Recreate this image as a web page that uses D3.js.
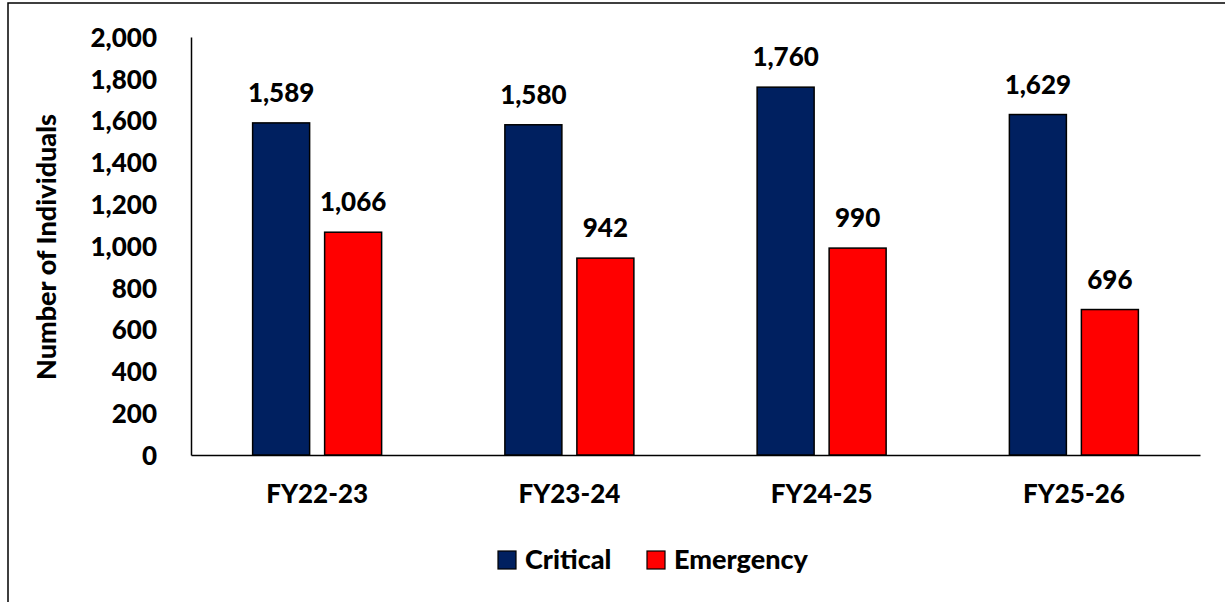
<!DOCTYPE html>
<html lang="en">
<head>
    <meta charset="utf-8">
    <script src="https://d3js.org/d3.v7.min.js"></script>
    <style>
        body { margin: 0; background: #fff; }
        text { font-family: Lato, "Open Sans", sans-serif; font-weight: 900; fill: #000; }
    </style>
</head>
<body>
    <div id="chart"></div>
    <script>
        // data
        var categories = ["FY22-23", "FY23-24", "FY24-25", "FY25-26"]
        var seriesNames = ["Critical", "Emergency"]
        var critical = [1589, 1580, 1760, 1629]
        var emergency = [1066, 942, 990, 696]
        var yTicks = [0, 200, 400, 600, 800, 1000, 1200, 1400, 1600, 1800, 2000]
        var colors = ["#002060", "#ff0000"]

        var width = 1225,
            height = 602
        var margin = { left: 191, right: 25, top: 37, bottom: 147 }
        var fs = 26

        var svg = d3.select("#chart")
            .append("svg")
            .attr("width", width)
            .attr("height", height)

        // outer frame (only left + top visible in the original)
        svg.append("rect")
            .attr("x", 8)
            .attr("y", 3)
            .attr("width", width + 20)
            .attr("height", height + 20)
            .attr("fill", "none")
            .attr("stroke", "#000")
            .attr("stroke-width", 1.5)

        var x = d3.scaleBand()
            .domain(categories)
            .range([margin.left, width - margin.right])

        // bar 57px, gap 15px
        var step = 72
        var inner = 15 / step
        var outer = (x.bandwidth() / step - 2 + inner) / 2
        var xs = d3.scaleBand()
            .domain(seriesNames)
            .range([0, x.bandwidth()])
            .paddingInner(inner)
            .paddingOuter(outer)

        var y = d3.scaleLinear()
            .domain([0, 2000])
            .range([height - margin.bottom - 0, margin.top])

        var fmt = d3.format(",")

        // y axis
        var yAxis = svg.append("g")
            .attr("transform", "translate(" + margin.left + ",0)")
            .call(d3.axisLeft(y).tickValues(yTicks).tickFormat(fmt).tickSize(0).tickPadding(34))
        yAxis.select(".domain").attr("stroke", "#000").attr("stroke-width", 1.5)
        yAxis.selectAll("text")
            .attr("font-size", fs)
            .attr("dy", "0.36em")
            .style("font-family", "Lato, sans-serif")

        // x axis
        var xAxis = svg.append("g")
            .attr("transform", "translate(0," + y(0) + ")")
            .call(d3.axisBottom(x).tickSize(0).tickPadding(30))
        xAxis.select(".domain").attr("stroke", "#000").attr("stroke-width", 1.5)
        xAxis.selectAll("text")
            .attr("font-size", fs)
            .style("font-family", "Lato, sans-serif")

        var rows = []
        categories.forEach(function(c, i) {
            rows.push({ cat: c, key: "Critical", value: critical[i] })
            rows.push({ cat: c, key: "Emergency", value: emergency[i] })
        })
        var color = d3.scaleOrdinal().domain(seriesNames).range(colors)

        svg.selectAll(".bar")
            .data(rows)
            .enter()
            .append("rect")
            .attr("class", "bar")
            .attr("x", function(d) { return x(d.cat) + xs(d.key) })
            .attr("y", function(d) { return y(d.value) })
            .attr("width", xs.bandwidth())
            .attr("height", function(d) { return y(0) - y(d.value) })
            .attr("fill", function(d) { return color(d.key) })
            .attr("stroke", "#000")
            .attr("stroke-width", 1.5)

        svg.selectAll(".lbl")
            .data(rows)
            .enter()
            .append("text")
            .attr("class", "lbl")
            .attr("x", function(d) { return x(d.cat) + xs(d.key) + xs.bandwidth() / 2 })
            .attr("y", function(d) { return y(d.value) - 21 })
            .attr("text-anchor", "middle")
            .attr("font-size", fs)
            .text(function(d) { return fmt(d.value) })

        // y axis title
        svg.append("text")
            .attr("transform", "translate(56,247) rotate(-90)")
            .attr("text-anchor", "middle")
            .attr("font-size", 27)
            .text("Number of Individuals")

        // legend
        var legendX = [498, 647]
        var legend = svg.selectAll(".leg")
            .data(seriesNames)
            .enter()
            .append("g")
            .attr("class", "leg")
            .attr("transform", function(d, i) { return "translate(" + legendX[i] + ",551)" })
        legend.append("rect")
            .attr("width", 18)
            .attr("height", 18)
            .attr("fill", function(d) { return color(d) })
            .attr("stroke", "#000")
            .attr("stroke-width", 1.2)
        legend.append("text")
            .attr("x", 27)
            .attr("y", 18)
            .attr("font-size", 27)
            .text(function(d) { return d })
    </script>
</body>
</html>
